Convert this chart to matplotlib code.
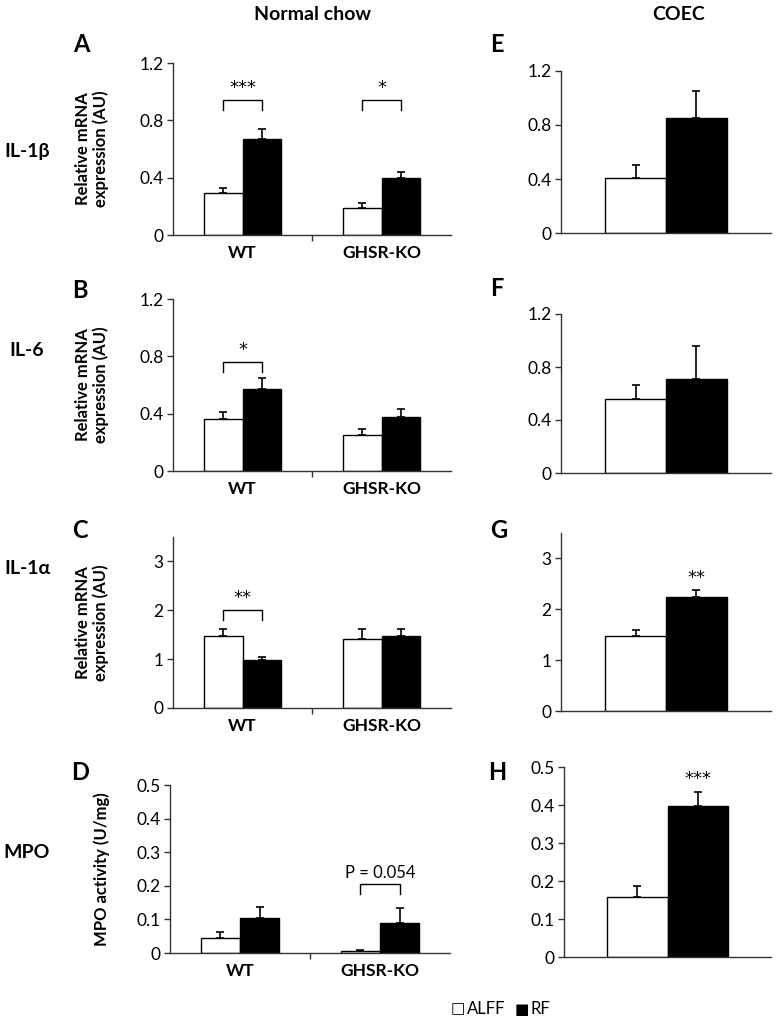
import matplotlib
matplotlib.use('Agg')
import matplotlib.pyplot as plt
import numpy as np

#----データ----
groups = ['WT', 'GHSR-KO']
series = ['ALFF', 'RF']

# Normal chow (WT, GHSR-KO)
il1b_alff = [0.29, 0.19]
il1b_alff_err = [0.04, 0.03]
il1b_rf = [0.67, 0.40]
il1b_rf_err = [0.07, 0.04]

il6_alff = [0.36, 0.25]
il6_alff_err = [0.05, 0.04]
il6_rf = [0.57, 0.38]
il6_rf_err = [0.08, 0.05]

il1a_alff = [1.48, 1.42]
il1a_alff_err = [0.13, 0.19]
il1a_rf = [0.99, 1.47]
il1a_rf_err = [0.06, 0.14]

mpo_alff = [0.044, 0.006]
mpo_alff_err = [0.019, 0.002]
mpo_rf = [0.103, 0.090]
mpo_rf_err = [0.035, 0.043]

# COEC
coec_il1b = [0.41, 0.85]
coec_il1b_err = [0.09, 0.20]
coec_il6 = [0.556, 0.707]
coec_il6_err = [0.11, 0.25]
coec_il1a = [1.48, 2.24]
coec_il1a_err = [0.12, 0.13]
coec_mpo = [0.159, 0.397]
coec_mpo_err = [0.027, 0.037]

# 有意差 (グループ番号, 高さ, ラベル)
sig_a = [(0, 0.94, '***'), (1, 0.94, '*')]
sig_b = [(0, 0.76, '*')]
sig_c = [(0, 2.0, '**')]
sig_d = [(1, 0.204, 'P = 0.054')]
star_g = '**'
star_h = '***'

W, H = 777, 1018
FONT = 'Lato'
plt.rcParams['font.family'] = [FONT, 'DejaVu Sans']

fig = plt.figure(figsize=(W/100, H/100), dpi=100)


def px_axes(left, top, right, bottom):
    return fig.add_axes([left/W, 1-bottom/H, (right-left)/W, (bottom-top)/H])


def style(ax, ymax, yticks, fmt):
    ax.set_ylim(0, ymax)
    ax.set_yticks(yticks)
    ax.set_yticklabels([fmt.format(t) if t != 0 else '0' for t in yticks], fontsize=12.5)
    for s in ['top', 'right']:
        ax.spines[s].set_visible(False)
    for s in ['left', 'bottom']:
        ax.spines[s].set_color('#333333')
        ax.spines[s].set_linewidth(1.0)
    ax.tick_params(axis='y', direction='out', length=4, width=1, color='#333333', pad=3)


def stars(ax, x, y, s):
    # アスタリスクは少し大きめのフォントで
    if s.startswith('*'):
        ax.text(x, y, s, ha='center', va='bottom', fontsize=13, family=['DejaVu Sans'])
    else:
        ax.text(x, y, s, ha='center', va='bottom', fontsize=12)


def left_panel(ax, alff, alff_err, rf, rf_err, ymax, yticks, fmt, sig, dy):
    w = 0.28
    x = np.arange(len(groups))
    ax.bar(x - w/2, alff, w, color='white', edgecolor='black', linewidth=1, zorder=2)
    ax.bar(x + w/2, rf, w, color='black', edgecolor='black', linewidth=1, zorder=2)
    ax.errorbar(x - w/2, alff, yerr=[np.zeros(len(alff)), alff_err], fmt='none',
                ecolor='black', elinewidth=1.2, capsize=3, capthick=1.2, zorder=1)
    ax.errorbar(x + w/2, rf, yerr=[np.zeros(len(rf)), rf_err], fmt='none',
                ecolor='black', elinewidth=1.2, capsize=3, capthick=1.2, zorder=1)
    ax.set_xlim(-0.5, len(groups) - 0.5)
    ax.set_xticks([0.5])
    ax.set_xticklabels([''])
    ax.tick_params(axis='x', direction='out', length=4, width=1, color='#333333')
    style(ax, ymax, yticks, fmt)
    for i, g in enumerate(groups):
        ax.text(i, -0.105, g, transform=ax.get_xaxis_transform(), ha='center',
                va='center', fontsize=12.5, fontweight='bold')
    for gi, yb, lab in sig:
        x0, x1 = gi - w/2, gi + w/2
        ax.plot([x0, x0, x1, x1], [yb - dy, yb, yb, yb - dy], color='black', lw=1)
        stars(ax, gi, yb + dy*0.35, lab)


def right_panel(ax, vals, errs, ymax, yticks, fmt, star=None):
    w = 0.29
    xs = [-w/2, w/2]
    ax.bar(xs[0], vals[0], w, color='white', edgecolor='black', linewidth=1, zorder=2)
    ax.bar(xs[1], vals[1], w, color='black', edgecolor='black', linewidth=1, zorder=2)
    ax.errorbar(xs, vals, yerr=[[0, 0], errs], fmt='none', ecolor='black',
                elinewidth=1.2, capsize=3, capthick=1.2, zorder=1)
    ax.set_xlim(-0.5, 0.5)
    ax.set_xticks([])
    style(ax, ymax, yticks, fmt)
    if star:
        stars(ax, xs[1], vals[1] + errs[1] + ymax*0.02, star)


# 左列
axA = px_axes(173, 63, 451, 235)
left_panel(axA, il1b_alff, il1b_alff_err, il1b_rf, il1b_rf_err, 1.2,
           [0, 0.4, 0.8, 1.2], '{:.1f}', sig_a, 0.07)
axB = px_axes(173, 299, 451, 471)
left_panel(axB, il6_alff, il6_alff_err, il6_rf, il6_rf_err, 1.2,
           [0, 0.4, 0.8, 1.2], '{:.1f}', sig_b, 0.07)
axC = px_axes(173, 537, 451, 708)
left_panel(axC, il1a_alff, il1a_alff_err, il1a_rf, il1a_rf_err, 3.5,
           [0, 1, 2, 3], '{:.0f}', sig_c, 0.2)
axD = px_axes(170, 785, 450, 953)
left_panel(axD, mpo_alff, mpo_alff_err, mpo_rf, mpo_rf_err, 0.5,
           [0, 0.1, 0.2, 0.3, 0.4, 0.5], '{:.1f}', sig_d, 0.029)

for ax in [axA, axB, axC]:
    ax.set_ylabel('Relative mRNA\nexpression (AU)', fontsize=12, fontweight='bold',
                  linespacing=1.1)
    ax.yaxis.set_label_coords(-0.23, 0.5)
axD.set_ylabel('MPO activity (U/mg)', fontsize=12, fontweight='bold')
axD.yaxis.set_label_coords(-0.215, 0.5)

# 右列
axE = px_axes(561, 71, 771, 233)
right_panel(axE, coec_il1b, coec_il1b_err, 1.2, [0, 0.4, 0.8, 1.2], '{:.1f}')
axF = px_axes(561, 314, 771, 473)
right_panel(axF, coec_il6, coec_il6_err, 1.2, [0, 0.4, 0.8, 1.2], '{:.1f}')
axG = px_axes(561, 533, 771, 711)
right_panel(axG, coec_il1a, coec_il1a_err, 3.5, [0, 1, 2, 3], '{:.0f}', star_g)
axH = px_axes(564, 767, 771, 957)
right_panel(axH, coec_mpo, coec_mpo_err, 0.5, [0, 0.1, 0.2, 0.3, 0.4, 0.5], '{:.1f}', star_h)

# 見出し・ラベル
def ftext(x, y, s, **kw):
    fig.text(x/W, 1-y/H, s, **kw)

ftext(312, 15, 'Normal chow', ha='center', va='center', fontsize=14, fontweight='bold')
ftext(679, 15, 'COEC', ha='center', va='center', fontsize=14, fontweight='bold')

for lab, x, y in [('A', 81, 45), ('B', 80, 290), ('C', 80, 530), ('D', 80, 772),
                  ('E', 497, 45), ('F', 497, 289), ('G', 499, 530), ('H', 497, 772)]:
    ftext(x, y, lab, ha='center', va='center', fontsize=17, fontweight='bold')

for lab, y in [('IL-1β', 152), ('IL-6', 351), ('IL-1α', 568), ('MPO', 852)]:
    ftext(27, y, lab, ha='center', va='center', fontsize=14, fontweight='bold')

# 凡例
ftext(451, 1009, '\u25a1', ha='left', va='center', fontsize=11, family=['DejaVu Sans'])
ftext(467, 1009, 'ALFF', ha='left', va='center', fontsize=12)
ftext(515, 1009, '\u25a0', ha='left', va='center', fontsize=11, family=['DejaVu Sans'])
ftext(531, 1009, 'RF', ha='left', va='center', fontsize=12)

fig.savefig('out.png', dpi=100)
